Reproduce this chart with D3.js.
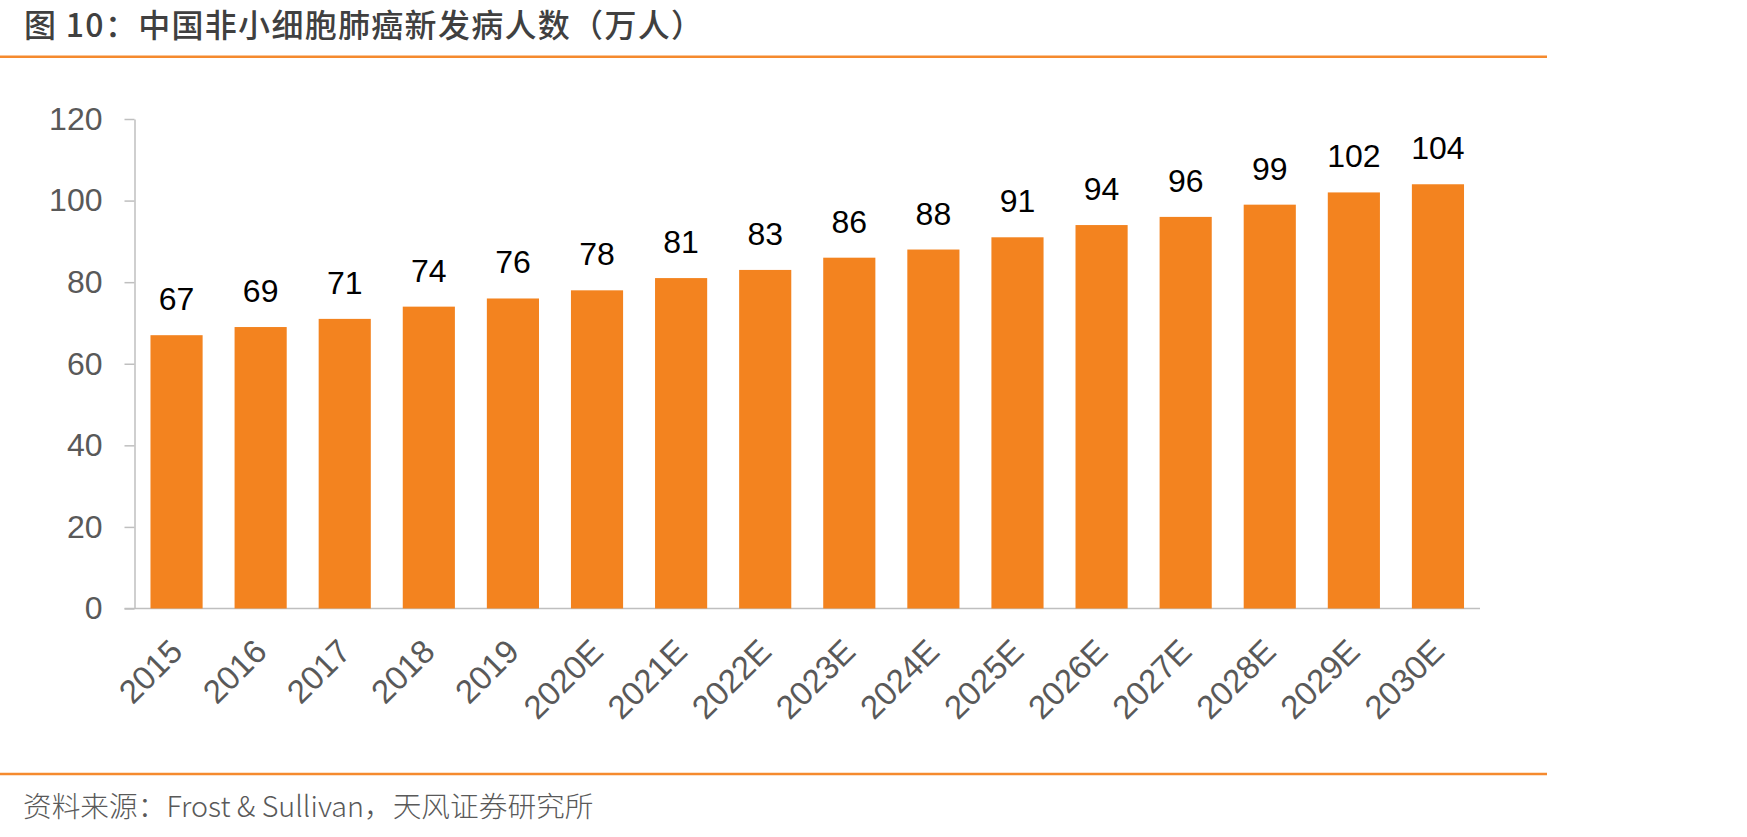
<!DOCTYPE html>
<html>
<head>
<meta charset="utf-8">
<script src="https://cdn.jsdelivr.net/npm/d3@7"></script>
<style>
  body { margin: 0; background: #fff; }
  svg { display: block; }
</style>
</head>
<body>
<svg id="chart" width="1747" height="837"></svg>
<script>
// **** Data
const years = ["2015", "2016", "2017", "2018", "2019", "2020E", "2021E", "2022E",
  "2023E", "2024E", "2025E", "2026E", "2027E", "2028E", "2029E", "2030E"];
const patients = [67, 69, 71, 74, 76, 78, 81, 83, 86, 88, 91, 94, 96, 99, 102, 104];
const yTicks = [0, 20, 40, 60, 80, 100, 120];
const titleText = "图 10：中国非小细胞肺癌新发病人数（万人）";
const sourceText = "资料来源：Frost & Sullivan，天风证券研究所";

function draw() {
  const svg = d3.select("#chart");
  const orange = "#F3831F";
  const latin = "'Liberation Sans', Arial, sans-serif";
  const cjk = "'Noto Sans CJK SC', 'Noto Sans', sans-serif";

  // **** Plot area
  const left = 134.5, right = 1480, top = 119, bottom = 608.5;

  // **** Scales
  const x = d3.scaleBand()
    .domain(years)
    .range([left, right])
    .paddingInner(0.38)
    .paddingOuter(0.19);

  const y = d3.scaleLinear()
    .domain([0, 120])
    .range([bottom, top]);

  // **** Title + rules
  svg.append("text")
    .attr("x", 24)
    .attr("y", 37)
    .attr("font-family", cjk)
    .attr("font-size", 32)
    .attr("font-weight", 500)
    .attr("letter-spacing", 1.3)
    .attr("fill", "#404040")
    .text(titleText);

  svg.append("line")
    .attr("x1", 0).attr("x2", 1547)
    .attr("y1", 56.7).attr("y2", 56.7)
    .attr("stroke", "#F58A2E")
    .attr("stroke-width", 2.5);

  svg.append("line")
    .attr("x1", 0).attr("x2", 1547)
    .attr("y1", 774).attr("y2", 774)
    .attr("stroke", "#F58A2E")
    .attr("stroke-width", 2.5);

  svg.append("text")
    .attr("x", 23)
    .attr("y", 817)
    .attr("font-family", cjk)
    .attr("font-size", 28.7)
    .attr("font-weight", 300)
    .attr("fill", "#595959")
    .text(sourceText);

  // **** Y axis
  const yAxis = svg.append("g")
    .attr("transform", `translate(${left},0)`)
    .call(d3.axisLeft(y).tickValues(yTicks).tickSize(10).tickPadding(22).tickSizeOuter(0));

  yAxis.select(".domain").attr("stroke", "#BFBFBF").attr("stroke-width", 1.5);
  yAxis.selectAll(".tick line").attr("stroke", "#BFBFBF").attr("stroke-width", 1.5);
  yAxis.selectAll(".tick text")
    .attr("font-family", latin)
    .attr("font-size", 32)
    .attr("fill", "#595959");

  // **** X axis (line only, labels drawn rotated below)
  svg.append("line")
    .attr("x1", left - 10).attr("x2", right)
    .attr("y1", bottom).attr("y2", bottom)
    .attr("stroke", "#BFBFBF")
    .attr("stroke-width", 1.5);

  svg.append("g")
    .selectAll("text")
    .data(years)
    .join("text")
    .attr("transform", d => `translate(${x(d) + x.bandwidth() / 2 + 8},${bottom + 45}) rotate(-45)`)
    .attr("text-anchor", "end")
    .attr("font-family", latin)
    .attr("font-size", 33)
    .attr("fill", "#595959")
    .text(d => d);

  // **** Bars
  svg.append("g")
    .selectAll("rect")
    .data(patients)
    .join("rect")
    .attr("x", (d, i) => x(years[i]))
    .attr("y", d => y(d))
    .attr("width", x.bandwidth())
    .attr("height", d => bottom - y(d))
    .attr("fill", orange);

  // **** Value labels
  svg.append("g")
    .selectAll("text")
    .data(patients)
    .join("text")
    .attr("x", (d, i) => x(years[i]) + x.bandwidth() / 2)
    .attr("y", d => y(d) - 25)
    .attr("text-anchor", "middle")
    .attr("font-family", latin)
    .attr("font-size", 32)
    .attr("fill", "#000")
    .text(d => d);
}
draw();
</script>
</body>
</html>
